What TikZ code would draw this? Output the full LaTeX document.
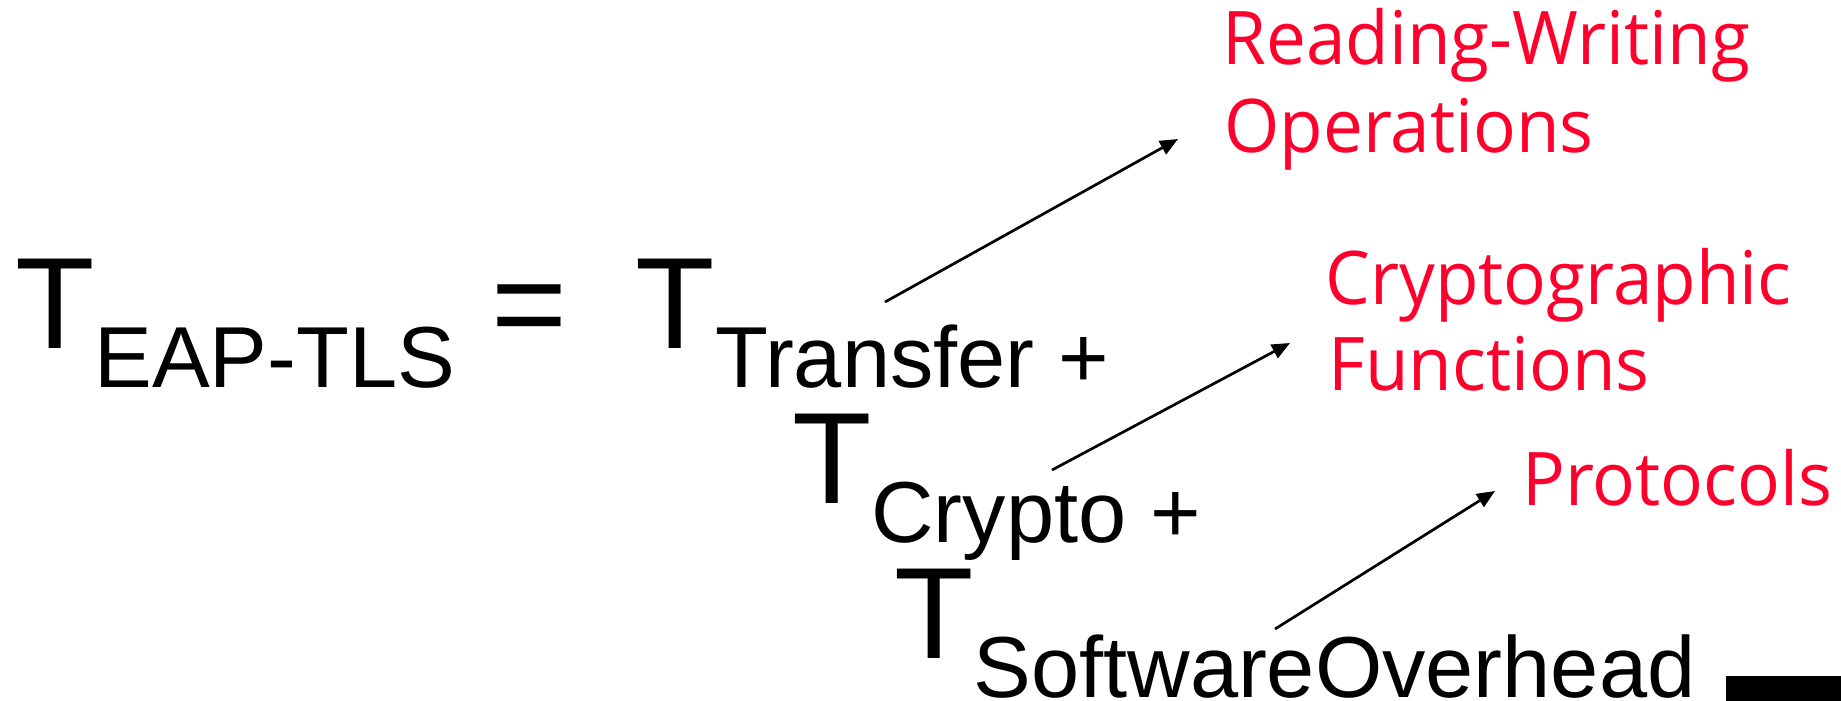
\documentclass[tikz,border=0pt]{standalone}
\usepackage{fontspec}
\setmainfont{Liberation Sans}
\newfontfamily\handfont[FakeStretch=0.96]{Open Sans}
\usetikzlibrary{arrows.meta}
\definecolor{notered}{RGB}{255,0,45}
\begin{document}
\begin{tikzpicture}[x=0.5pt,y=-0.5pt,
  bigT/.style={anchor=base west,inner sep=0pt,font=\fontsize{65pt}{65pt}\selectfont},
  subtxt/.style={anchor=base west,inner sep=0pt,font=\fontsize{43.3pt}{43.3pt}\selectfont},
  note/.style={anchor=base west,inner sep=0pt,text=notered,font=\handfont\fontsize{37pt}{43.5pt}\selectfont},
  pointer/.style={line width=1.35pt,-{Triangle[length=9pt,width=7.5pt]}}]
\path[use as bounding box] (0,0) rectangle (1841,701);
% equation
\node[bigT]   (t0)  at (15,348)  {T};
\node[subtxt] (s0)  at (94,387)  {EAP-TLS};
\node[bigT]   (eq)  at (491,348) {=};
\node[bigT]   (t1)  at (635,348) {T};
\node[subtxt] (s1)  at (715,387) {Transfer +};
\node[bigT]   (t2)  at (792,503) {T};
\node[subtxt] (s2)  at (871,542) {Crypto +};
\node[bigT]   (t3)  at (894,658) {T};
\node[subtxt] (s3)  at (973,697) {SoftwareOverhead};
% notes
\node[note] (rw1) at (1222,65)  {Reading-Writing};
\node[note] (rw2) at (1224,152) {Operations};
\node[note] (cf1) at (1325,304) {Cryptographic};
\node[note] (cf2) at (1328,390) {Functions};
\node[note] (pr)  at (1522,505) {Protocols};
% arrows
\coordinate (a1s) at (885,302);  \coordinate (a1e) at (1178,139);
\coordinate (a2s) at (1052,470); \coordinate (a2e) at (1290,343);
\coordinate (a3s) at (1275,629); \coordinate (a3e) at (1495,491);
\draw[pointer] (a1s) -- (a1e);
\draw[pointer] (a2s) -- (a2e);
\draw[pointer] (a3s) -- (a3e);
% black bar
\fill (1726,676) rectangle (1841,701);
\end{tikzpicture}
\end{document}
